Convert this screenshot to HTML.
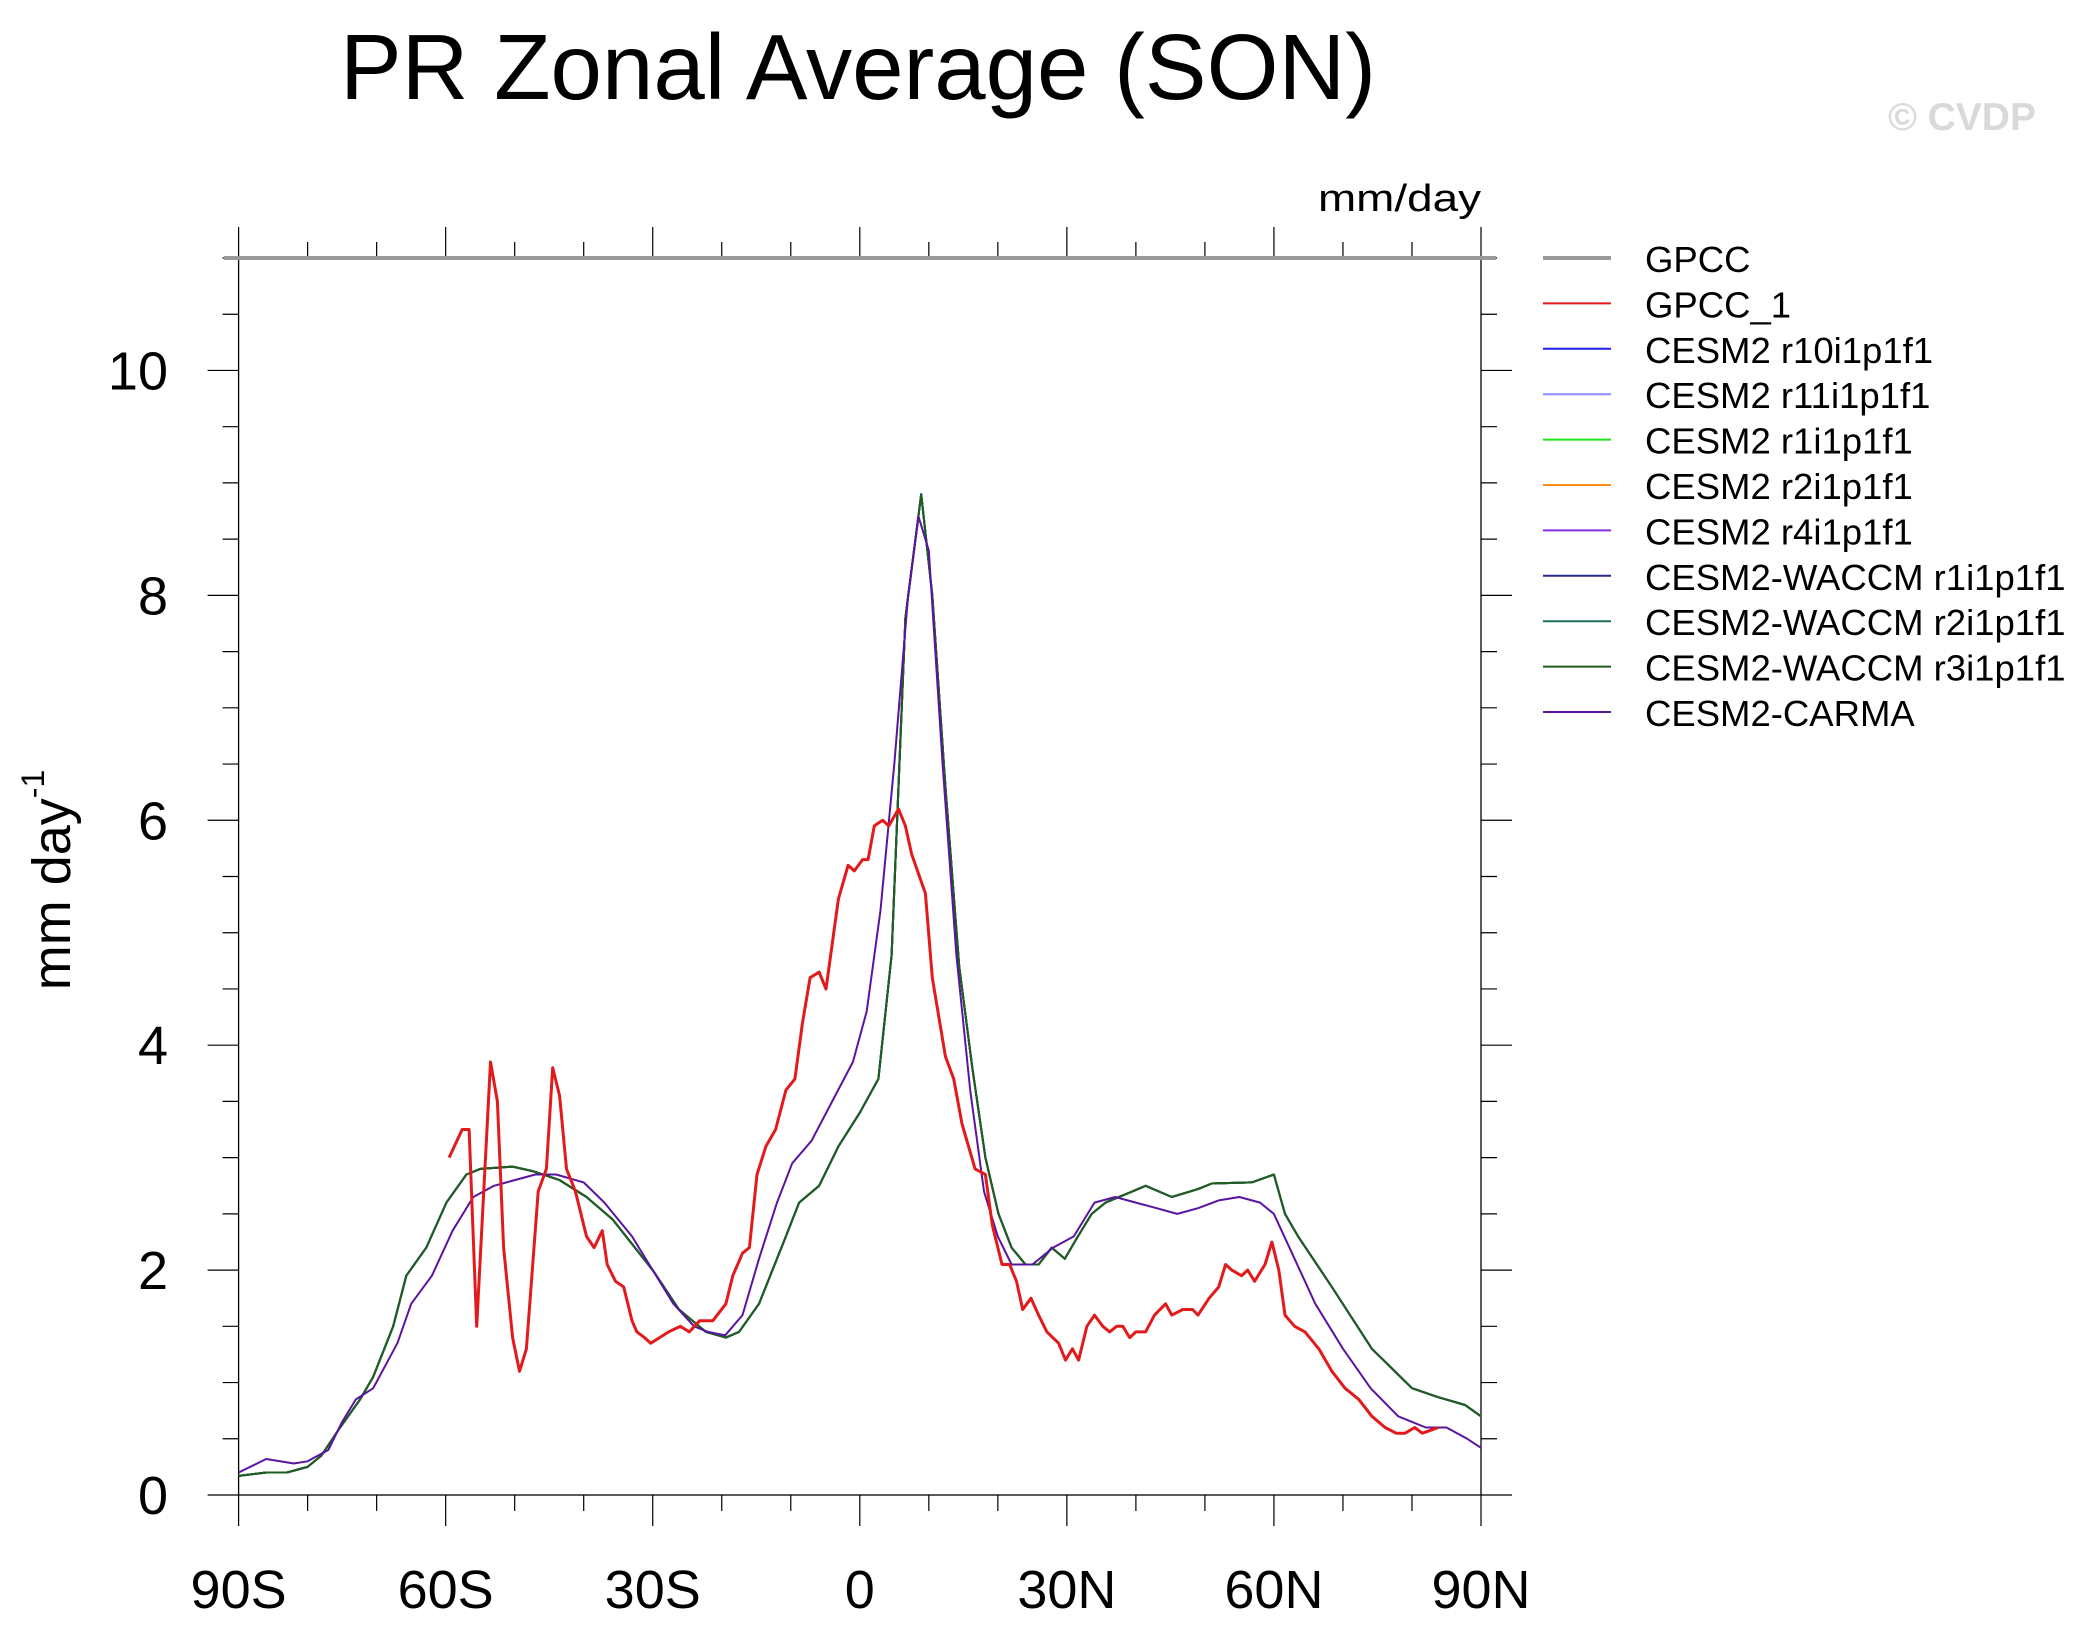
<!DOCTYPE html>
<html><head><meta charset="utf-8"><style>
html,body{margin:0;padding:0;background:#fff;}
svg{display:block;font-family:"Liberation Sans",sans-serif;}
</style></head><body>
<svg id="chart" width="2079" height="1640" viewBox="0 0 2079 1640" xmlns="http://www.w3.org/2000/svg">
<rect width="2079" height="1640" fill="#fff"/>
<text x="858" y="99" font-size="93" text-anchor="middle" textLength="1036" lengthAdjust="spacingAndGlyphs">PR Zonal Average (SON)</text>
<text x="2036" y="130" font-size="39" font-weight="bold" fill="#d9d9d9" text-anchor="end">© CVDP</text>
<text x="1481" y="211" font-size="38" text-anchor="end" textLength="163" lengthAdjust="spacingAndGlyphs">mm/day</text>
<text transform="translate(70,880) rotate(-90)" font-size="54" text-anchor="middle">mm day<tspan font-size="32" dy="-26">-1</tspan></text>
<g id="axes"></g>
<g id="series"></g>
<g id="legend"></g>
</svg>
<script>
const NS="http://www.w3.org/2000/svg";
const X0=238.6,X1=1481,Y0=1495,Y1=258,VMAX=11;
const xs=lat=>X0+(lat+90)*(X1-X0)/180;
const ys=v=>Y0-v*(Y0-Y1)/VMAX;

const xTickLats=[-90,-60,-30,0,30,60,90];
const xTickLabels=["90S","60S","30S","0","30N","60N","90N"];
const yTickVals=[0,2,4,6,8,10];
const yTickLabels=["0","2","4","6","8","10"];

const modelLats=[-90,-86,-83,-80,-78,-75.3,-72.4,-70.5,-67.6,-65.7,-62.8,-59.9,-57,-55,-50.3,-47.4,-43.5,-39.6,-35.8,-30,-26.2,-22.3,-19.4,-17.5,-14.6,-10.7,-8.8,-5.9,-3.1,0,2.7,4.6,6.6,8.9,10.5,12.4,14.4,16.3,18.2,20.1,22,24,25.9,27.8,29.7,31.6,33.6,35.6,39.5,41.4,45.2,49,51,56.8,60,61.6,63.5,68.4,74.2,80,83.8,87.7,90];
const cesm2Values=[0.17,0.2,0.2,0.25,0.35,0.6,0.85,1.05,1.5,1.95,2.2,2.6,2.85,2.9,2.92,2.88,2.8,2.65,2.45,2.0,1.65,1.45,1.4,1.45,1.7,2.3,2.6,2.75,3.1,3.4,3.7,4.8,7.8,8.9,8.0,6.3,4.7,3.8,3.0,2.5,2.2,2.05,2.05,2.2,2.1,2.3,2.5,2.6,2.7,2.75,2.65,2.72,2.77,2.78,2.85,2.5,2.3,1.85,1.3,0.95,0.87,0.8,0.7];

const carmaLats=[-90,-86,-82,-80,-77,-75,-73,-70.5,-67,-65,-62,-59,-56,-53,-50,-47,-44,-40,-37,-33,-30,-27,-24,-22,-19.5,-17,-14.6,-12,-9.8,-7,-4,-1,1,3,5,7,8.5,10,12,14,16,18,20,22,25,28,31,34,37,40,43,46,49,52,55,58,60,63,66,70,74,78,82,85,88,90];
const carmaValues=[0.2,0.32,0.28,0.3,0.4,0.65,0.85,0.95,1.35,1.7,1.95,2.35,2.65,2.75,2.8,2.85,2.85,2.78,2.6,2.3,2.0,1.7,1.5,1.45,1.42,1.6,2.1,2.6,2.95,3.15,3.5,3.85,4.3,5.2,6.5,8.0,8.7,8.4,6.5,4.8,3.6,2.7,2.3,2.05,2.05,2.2,2.3,2.6,2.65,2.6,2.55,2.5,2.55,2.62,2.65,2.6,2.5,2.1,1.7,1.3,0.95,0.7,0.6,0.6,0.5,0.42];

const gpccLats=[-59.5,-57.6,-56.6,-55.5,-53.5,-52.5,-51.6,-50.3,-49.3,-48.3,-46.6,-45.4,-44.5,-43.5,-42.5,-41.2,-39.6,-38.5,-37.3,-36.6,-35.4,-34.2,-33,-32.3,-31.2,-30.3,-29,-27.7,-26,-24.7,-23.2,-21.3,-19.4,-18.4,-17,-16,-14.9,-13.6,-12.2,-10.7,-9.4,-8.3,-7.2,-5.9,-4.9,-4,-3.1,-1.7,-0.8,0.4,1.2,2.1,3.3,4.2,5.6,6.6,7.5,9.5,10.5,12.4,13.6,14.8,16.7,18.2,19.2,20.6,21.7,22.7,23.6,24.8,25.9,27.1,28.8,29.8,30.8,31.7,32.9,34,35.2,36.2,37.2,38.1,39.1,40,41.4,42.7,44.3,45.2,46.8,48.2,49,50.6,52,53,53.9,55.3,56.2,57.2,58.7,59.7,60.7,61.6,63,64.5,66.5,68.4,70.3,72.3,74.2,76.1,77.7,79,80.4,81.5,82.9,83.8];
const gpccValues=[3.0,3.25,3.25,1.5,3.85,3.5,2.2,1.4,1.1,1.3,2.7,2.9,3.8,3.55,2.9,2.7,2.3,2.2,2.35,2.05,1.9,1.85,1.55,1.45,1.4,1.35,1.4,1.45,1.5,1.45,1.55,1.55,1.7,1.95,2.15,2.2,2.85,3.1,3.25,3.6,3.7,4.2,4.6,4.65,4.5,4.9,5.3,5.6,5.55,5.65,5.65,5.95,6.0,5.95,6.1,5.95,5.7,5.35,4.6,3.9,3.7,3.3,2.9,2.85,2.4,2.05,2.05,1.9,1.65,1.75,1.6,1.45,1.35,1.2,1.3,1.2,1.5,1.6,1.5,1.45,1.5,1.5,1.4,1.45,1.45,1.6,1.7,1.6,1.65,1.65,1.6,1.75,1.85,2.05,2.0,1.95,2.0,1.9,2.05,2.25,2.0,1.6,1.5,1.45,1.3,1.1,0.95,0.85,0.7,0.6,0.55,0.55,0.6,0.55,0.58,0.6];

const legendNames=["GPCC","GPCC_1","CESM2 r10i1p1f1","CESM2 r11i1p1f1","CESM2 r1i1p1f1","CESM2 r2i1p1f1","CESM2 r4i1p1f1","CESM2-WACCM r1i1p1f1","CESM2-WACCM r2i1p1f1","CESM2-WACCM r3i1p1f1","CESM2-CARMA"];
const legendColors=["#999999","#e31a1c","#1f1fe6","#8c8cff","#19e619","#ff8c1a","#8a2be2","#26268c","#1f6b5a","#1e5e1e","#5a14a0"];

function mk(tag,attrs,parent){const e=document.createElementNS(NS,tag);for(const k in attrs)e.setAttribute(k,attrs[k]);parent.appendChild(e);return e;}
const axes=document.getElementById('axes');
const frame=mk('rect',{x:X0,y:Y1,width:X1-X0,height:Y0-Y1,fill:'none',stroke:'#000','stroke-width':1.3},axes);


for(let lat=-90;lat<=90;lat+=10){
  const major=lat%30===0;const L=major?31:16;const x=xs(lat);
  const t=mk('path',{d:`M${x},${Y0}V${Y0+L}M${x},${Y1}V${Y1-L}`,stroke:'#000','stroke-width':1.2},axes);
  
  
}
for(let v=0;v<=VMAX+1e-9;v+=0.5){
  const major=Math.abs(v%2)<1e-9;const L=major?31:16;const y=ys(v);
  const t=mk('path',{d:`M${X0},${y}H${X0-L}M${X1},${y}H${X1+L}`,stroke:'#000','stroke-width':1.2},axes);
  
  
}
xTickLats.forEach((lat,i)=>{
  const t=mk('text',{x:xs(lat),y:1608,'font-size':54,'text-anchor':'middle'},axes);
  t.textContent=xTickLabels[i];
  
  
});
yTickVals.forEach((v,i)=>{
  const t=mk('text',{x:168,y:ys(v)+19,'font-size':54,'text-anchor':'end'},axes);
  t.textContent=yTickLabels[i];
  
  
});
const series=document.getElementById('series');
function line(lats,vals,color,w,name){
  const d=lats.map((l,i)=>(i?'L':'M')+xs(l).toFixed(1)+','+ys(vals[i]).toFixed(1)).join('');
  const p=mk('path',{d:d,fill:'none',stroke:color,'stroke-width':w,'stroke-linejoin':'round'},series);
  
  
}
const g=mk('path',{d:`M224,${Y1}H1496`,stroke:'#999','stroke-width':4},series);


for(let k=2;k<=9;k++){line(modelLats,cesm2Values,legendColors[k],2,'series-line-'+k);}
line(carmaLats,carmaValues,legendColors[10],2,'cesm2-carma-line');
line(gpccLats,gpccValues,legendColors[1],3,'gpcc-1-line');
const lg=document.getElementById('legend');
legendNames.forEach((n,i)=>{
  const y=258+i*45.4;
  const l=mk('line',{x1:1543,x2:1611,y1:y,y2:y,stroke:legendColors[i],'stroke-width':i===0?4:2},lg);
  
  
  const t=mk('text',{x:1645,y:y+14,'font-size':36.5},lg);
  t.textContent=n;
  
  
});
</script>
</body></html>
